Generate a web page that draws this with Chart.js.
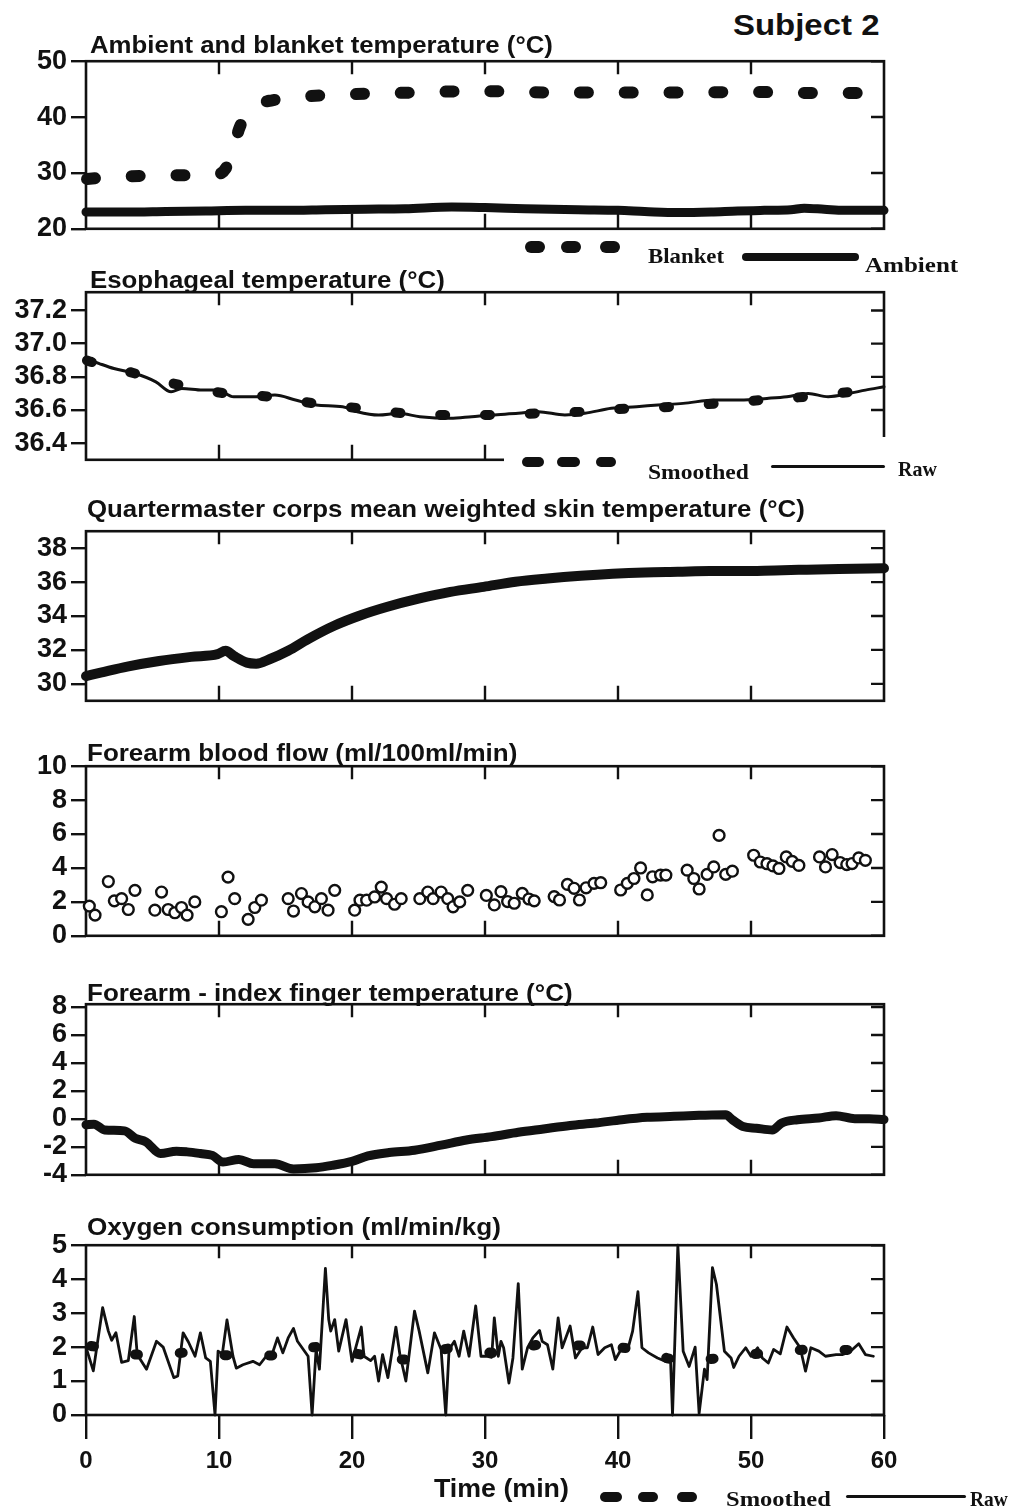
<!DOCTYPE html>
<html>
<head>
<meta charset="utf-8">
<script src="https://cdn.jsdelivr.net/npm/chart.js@4.4.1/dist/chart.umd.min.js"></script>
<style>
  body { margin: 0; background: #fff; }
  #page { position: relative; width: 1011px; height: 1512px; overflow: hidden; background: #fff; }
  canvas.panel { position: absolute; left: 0; z-index: 1; }
  .txt { position: absolute; z-index: 2; white-space: nowrap; line-height: 1; color: #111;
         font-family: "Liberation Sans", Arial, sans-serif; font-weight: bold; transform-origin: 0 0; }
  .txt.serif { font-family: "Liberation Serif", "Times New Roman", serif; }
  .mark { position: absolute; z-index: 2; background: #111; }
  .cover { position: absolute; z-index: 2; background: #fff; }
</style>
</head>
<body>
<div id="page"></div>
<script>
// ---- time axis (minutes) ----
const TIME_TICKS = [0, 10, 20, 30, 40, 50, 60];

// ---- ambient and blanket temperature (°C) ----
const AMB_TICKS = [20, 30, 40, 50];
const BLANKET_T = [0, 2, 4, 6, 8, 10, 10.5, 11, 11.5, 12, 12.5, 13, 14, 15, 16, 18, 20, 22, 25, 28, 31, 35, 40, 45, 50, 55, 60];
const BLANKET_C = [28.9, 29.3, 29.45, 29.55, 29.6, 29.8, 30.8, 33.5, 37.8, 40.2, 41.6, 42.4, 43.0, 43.3, 43.6, 43.9, 44.1, 44.25, 44.4, 44.6, 44.6, 44.4, 44.4, 44.4, 44.5, 44.3, 44.3];
const AMBIENT_T = [0, 3, 6, 9, 12, 15, 18, 21, 24, 27.5, 30, 33, 37, 40, 42, 44.5, 47, 49, 51, 53, 54, 55.5, 57, 60];
const AMBIENT_C = [23.0, 23.0, 23.1, 23.2, 23.3, 23.3, 23.4, 23.5, 23.6, 23.9, 23.8, 23.6, 23.4, 23.3, 23.1, 22.9, 23.0, 23.2, 23.3, 23.4, 23.7, 23.5, 23.3, 23.3];

// ---- esophageal temperature (°C) ----
const ESO_TICKS = [36.4, 36.6, 36.8, 37.0, 37.2];
const ESO_RAW_T = [0, 1.0, 2.1, 3.7, 5.25, 6.4, 7.2, 8.75, 9.9, 11.1, 12.65, 14.2, 15.75, 17.3, 19.3, 20.4, 22.0, 23.5, 25.1, 27.4,
                   29.0, 30.5, 32.5, 34.0, 36.0, 37.5, 39.5, 41.4, 43.0, 44.9, 47.3, 49.2, 51.2, 52.7, 54.3, 55.8, 57.4, 58.6, 60];
const ESO_RAW_C = [36.91, 36.88, 36.85, 36.82, 36.77, 36.71, 36.73, 36.72, 36.72, 36.68, 36.68, 36.69, 36.66, 36.63, 36.62, 36.59, 36.57, 36.58, 36.56, 36.55,
                   36.56, 36.57, 36.58, 36.59, 36.57, 36.58, 36.61, 36.62, 36.63, 36.64, 36.66, 36.66, 36.67, 36.68, 36.70, 36.68, 36.70, 36.72, 36.74];
const ESO_SM_T = [0, 0.4, 3.7, 7.1, 10.5, 13.8, 17.2, 20.6, 23.9, 27.4, 30.7, 34.0, 37.4, 40.9, 44.2, 47.5, 50.8, 54.1, 57.6, 60];
const ESO_SM_C = [36.9, 36.89, 36.82, 36.75, 36.70, 36.68, 36.64, 36.61, 36.58, 36.57, 36.57, 36.58, 36.59, 36.61, 36.62, 36.64, 36.66, 36.68, 36.71, 36.73];

// ---- mean weighted skin temperature (°C) ----
const SKIN_TICKS = [30, 32, 34, 36, 38];
const SKIN_T = [0, 1.1, 3.1, 5.5, 7.9, 9.9, 10.5, 11.1, 12.1, 12.8, 13.8, 15.2, 16.7, 18.7, 20.6, 22.6, 25.0, 27.4, 29.9, 32.3,
                34.7, 37.2, 39.6, 42.0, 44.5, 46.9, 49.3, 51.8, 54.2, 56.6, 60];
const SKIN_C = [30.46, 30.66, 31.02, 31.35, 31.59, 31.75, 31.95, 31.65, 31.25, 31.19, 31.45, 31.95, 32.64, 33.44, 34.03, 34.53, 35.02, 35.42, 35.72, 36.02,
                36.21, 36.37, 36.49, 36.57, 36.61, 36.65, 36.65, 36.69, 36.73, 36.77, 36.81];

// ---- forearm blood flow (ml/100ml/min) ----
const FLOW_TICKS = [0, 2, 4, 6, 8, 10];
const FLOW_T = [0.25, 0.68, 1.68, 2.13, 2.68, 3.18, 3.68,
                5.18, 5.68, 6.18, 6.68, 7.18, 7.6, 8.18,
                10.18, 10.68, 11.18, 12.19, 12.69, 13.19,
                15.2, 15.6, 16.2, 16.7, 17.2, 17.7, 18.2, 18.7,
                20.2, 20.6, 21.1, 21.7, 22.2, 22.6, 23.2, 23.7,
                25.1, 25.7, 26.1, 26.7, 27.2, 27.6, 28.1, 28.7,
                30.1, 30.7, 31.2, 31.7, 32.2, 32.8, 33.3, 33.7,
                35.2, 35.6, 36.2, 36.7, 37.1, 37.6, 38.2, 38.7,
                40.2, 40.7, 41.2, 41.7, 42.2, 42.6, 43.2, 43.6,
                45.2, 45.7, 46.1, 46.7, 47.2, 47.6, 48.1, 48.6,
                50.2, 50.7, 51.2, 51.65, 52.1, 52.65, 53.1, 53.6,
                55.15, 55.6, 56.1, 56.7, 57.2, 57.6, 58.1, 58.6];
const FLOW_V = [1.75, 1.22, 3.20, 2.06, 2.19, 1.55, 2.68,
                1.51, 2.58, 1.55, 1.36, 1.67, 1.22, 2.0,
                1.42, 3.46, 2.19, 0.97, 1.67, 2.10,
                2.19, 1.46, 2.49, 2.0, 1.71, 2.19, 1.51, 2.68,
                1.51, 2.10, 2.10, 2.29, 2.87, 2.19, 1.86, 2.19,
                2.19, 2.58, 2.19, 2.58, 2.19, 1.71, 2.0, 2.68,
                2.38, 1.82, 2.60, 2.02, 1.92, 2.50, 2.17, 2.06,
                2.31, 2.11, 3.03, 2.80, 2.11, 2.83, 3.09, 3.13,
                2.70, 3.09, 3.38, 4.0, 2.41, 3.48, 3.58, 3.58,
                3.87, 3.38, 2.76, 3.62, 4.06, 5.92, 3.62, 3.81,
                4.75, 4.35, 4.25, 4.12, 3.97, 4.65, 4.39, 4.15,
                4.65, 4.06, 4.79, 4.32, 4.20, 4.26, 4.59, 4.45];

// ---- forearm - index finger temperature (°C) ----
const FING_TICKS = [-4, -2, 0, 2, 4, 6, 8];
const FING_T = [0, 0.6, 1.4, 2.9, 3.7, 4.5, 5.6, 6.8, 7.6, 8.6, 9.5, 10.3, 11.5, 12.6, 14.2, 15.6, 17.3, 18.5, 20.0, 21.2, 22.8, 24.7,
                26.7, 28.6, 30.5, 32.5, 34.4, 36.4, 38.3, 40.3, 42.2, 44.2, 46.1, 48.1, 48.6, 49.4, 50.4, 51.6, 52.3, 53.5, 55.1, 56.4, 57.8, 58.9, 60];
const FING_C = [-0.42, -0.38, -0.79, -0.86, -1.39, -1.64, -2.48, -2.31, -2.36, -2.48, -2.61, -3.09, -2.90, -3.21, -3.21, -3.58, -3.50, -3.33, -3.04, -2.65, -2.41, -2.24,
                -1.88, -1.51, -1.27, -0.96, -0.72, -0.47, -0.30, -0.06, 0.11, 0.18, 0.25, 0.30, -0.06, -0.55, -0.67, -0.79, -0.30, -0.06, 0.06, 0.23, 0.01, 0.01, -0.05];

// ---- oxygen consumption (ml/min/kg) ----
const OXY_TICKS = [0, 1, 2, 3, 4, 5];
const OXY_RAW_T = [0.0, 0.55, 1.25, 1.68, 1.93, 2.25, 2.68, 3.18, 3.63, 3.85,
                   4.55, 5.3, 5.8, 6.6, 6.9, 7.3, 7.7, 8.2, 8.6, 9.0,
                   9.35, 9.7, 9.93, 10.25, 10.6, 11.05, 11.3, 11.8, 12.55, 13.05,
                   13.55, 13.9, 14.4, 14.8, 15.2, 15.6, 15.9, 16.7, 17.0, 17.3,
                   17.55, 18.0, 18.25, 18.4, 18.7, 19.0, 19.55, 20.0, 20.7, 20.9,
                   21.4, 21.7, 22.0, 22.3, 22.7, 23.3, 23.6, 24.05, 24.7, 25.05,
                   25.7, 26.2, 26.7, 27.05, 27.3, 27.7, 28.05, 28.4, 28.8, 29.3,
                   29.7, 30.1, 30.5, 30.7, 31.0, 31.2, 31.4, 31.8, 32.1, 32.5,
                   32.8, 33.2, 33.6, 34.1, 34.3, 34.7, 35.1, 35.5, 35.8, 36.4,
                   36.8, 37.3, 37.7, 38.1, 38.5, 39.0, 39.5, 39.8, 40.3, 40.8,
                   41.1, 41.5, 41.8, 42.3, 42.97, 43.6, 43.95, 44.1, 44.5, 44.9,
                   45.35, 45.8, 46.1, 46.5, 46.7, 47.1, 47.4, 48.0, 48.5, 48.7,
                   49.1, 49.6, 50.0, 50.5, 50.85, 51.3, 51.7, 52.2, 52.7, 53.2,
                   53.7, 54.1, 54.5, 55.1, 55.6, 56.4, 56.9, 57.4, 58.1, 58.6, 59.2];
const OXY_RAW_V = [2.0, 1.3, 3.16, 2.47, 2.2, 2.42, 1.55, 1.6, 2.9, 1.78,
                   1.35, 2.17, 2.0, 1.1, 1.15, 2.42, 2.15, 1.73, 2.42, 1.68,
                   1.58, 0.0, 1.88, 1.8, 2.8, 1.73, 1.38, 1.48, 1.58, 1.48,
                   1.73, 1.68, 2.27, 1.83, 2.27, 2.55, 2.17, 1.73, 0.0, 1.93,
                   1.35, 4.32, 2.81, 2.47, 2.81, 1.88, 2.81, 1.58, 2.59, 1.73,
                   1.6, 1.73, 1.0, 1.78, 1.1, 2.59, 1.78, 1.0, 3.06, 2.47,
                   1.24, 2.42, 1.93, 0.0, 1.93, 2.17, 1.73, 2.47, 1.73, 3.21,
                   1.73, 1.73, 1.7, 2.86, 1.73, 2.17, 1.98, 0.94, 1.68, 3.87,
                   1.35, 1.98, 2.27, 2.49, 2.17, 2.07, 1.35, 2.86, 1.98, 2.62,
                   1.68, 1.98, 1.98, 2.59, 1.78, 1.98, 2.07, 1.63, 1.98, 2.03,
                   2.47, 3.63, 1.98, 1.83, 1.68, 1.58, 1.63, 0.0, 5.0, 1.88,
                   1.43, 2.0, 0.05, 1.35, 1.04, 4.34, 3.85, 1.88, 1.68, 1.4,
                   1.73, 1.98, 1.73, 1.98, 1.68, 1.53, 1.93, 1.8, 2.59, 2.27,
                   1.98, 1.29, 1.98, 1.88, 1.73, 1.78, 1.78, 1.85, 2.1, 1.78, 1.73];
const OXY_SM_T = [0, 0.6, 4.0, 7.4, 10.6, 14.0, 17.4, 21.0, 24.3, 27.6, 31.1, 34.4, 37.9, 41.4, 44.9, 48.0, 51.4, 54.9, 58.3, 59.2];
const OXY_SM_V = [2.05, 2.02, 1.78, 1.83, 1.76, 1.75, 2.0, 1.76, 1.63, 1.97, 1.82, 2.08, 2.03, 1.93, 1.6, 1.69, 1.84, 1.93, 1.9, 1.88];

const INK = '#111';
const FONT = "'Liberation Sans', Arial, sans-serif";
const PAD = 20;       // space above/below each plot frame inside its canvas
const AXIS_H = 60;    // height kept for the time axis under the last panel

const pts = (ts, vs) => ts.map((t, i) => ({ x: t, y: vs[i] }));

function curve(ts, vs, width, extra) {
  return Object.assign({
    data: pts(ts, vs), borderColor: INK, borderWidth: width, pointRadius: 0,
    borderCapStyle: 'round', borderJoinStyle: 'round', fill: false, clip: 8,
    cubicInterpolationMode: 'monotone'
  }, extra);
}

// frame around the plot plus the inward tick marks (top, bottom, right)
const framePlugin = {
  id: 'frame',
  beforeDatasetsDraw(chart, args, opts) {
    const { ctx, chartArea: a, scales: { x, y } } = chart;
    ctx.save();
    ctx.strokeStyle = INK;
    ctx.lineWidth = 2.6;
    ctx.strokeRect(a.left, a.top, a.right - a.left, a.bottom - a.top);
    ctx.lineWidth = 2.4;
    ctx.beginPath();
    TIME_TICKS.slice(1, -1).forEach(t => {
      const px = x.getPixelForValue(t);
      ctx.moveTo(px, a.top); ctx.lineTo(px, a.top + 13);
      if (!opts.outerBottom) { ctx.moveTo(px, a.bottom); ctx.lineTo(px, a.bottom - 15); }
    });
    y.ticks.forEach(tk => {
      const py = y.getPixelForValue(tk.value);
      ctx.moveTo(a.right, py); ctx.lineTo(a.right - 13, py);
    });
    ctx.stroke();
    ctx.restore();
  }
};

const panels = [
  { top: 61, bottom: 229, min: 20, max: 50, ticks: AMB_TICKS,
    datasets: [
      curve(AMBIENT_T, AMBIENT_C, 9),
      curve(BLANKET_T, BLANKET_C, 12, { borderDash: [8, 36.8], borderDashOffset: -1 })
    ] },
  { top: 292, bottom: 460, min: 36.3, max: 37.31, ticks: ESO_TICKS, fmt: v => v.toFixed(1),
    datasets: [
      curve(ESO_RAW_T, ESO_RAW_C, 3),
      curve(ESO_SM_T, ESO_SM_C, 10, { borderDash: [5, 39.8], borderDashOffset: -1 })
    ] },
  { top: 531, bottom: 701, min: 29, max: 39, ticks: SKIN_TICKS,
    datasets: [ curve(SKIN_T, SKIN_C, 10) ] },
  { top: 766, bottom: 936, min: 0, max: 10, ticks: FLOW_TICKS,
    datasets: [ {
      data: pts(FLOW_T, FLOW_V), showLine: false, pointStyle: 'circle', pointRadius: 5.4,
      pointBorderWidth: 2.4, pointBorderColor: INK, pointBackgroundColor: '#fff', clip: 8
    } ] },
  { top: 1004, bottom: 1175, min: -4, max: 8.2, ticks: FING_TICKS,
    datasets: [ curve(FING_T, FING_C, 9) ] },
  { top: 1245, bottom: 1415, min: 0, max: 5, ticks: OXY_TICKS, last: true,
    datasets: [
      curve(OXY_RAW_T, OXY_RAW_V, 2.8, { cubicInterpolationMode: 'default', tension: 0 }),
      curve(OXY_SM_T, OXY_SM_V, 10, { borderDash: [3, 41.8], borderDashOffset: -5 })
    ] }
];

const page = document.getElementById('page');

function makePanel(p) {
  const c = document.createElement('canvas');
  c.className = 'panel';
  c.width = 1011;
  c.height = p.bottom - p.top + PAD + (p.last ? AXIS_H : PAD);
  c.style.top = (p.top - PAD) + 'px';
  page.appendChild(c);

  new Chart(c, {
    type: 'line',
    data: { datasets: p.datasets },
    options: {
      responsive: false,
      animation: false,
      events: [],
      layout: { padding: { top: PAD, bottom: p.last ? 0 : PAD, left: 0, right: 127 } },
      plugins: { legend: { display: false }, tooltip: { enabled: false }, frame: { outerBottom: !!p.last } },
      scales: {
        x: {
          type: 'linear', min: 0, max: 60, display: !!p.last,
          afterBuildTicks: s => { s.ticks = TIME_TICKS.map(v => ({ value: v })); },
          afterFit: s => { if (p.last) s.height = AXIS_H; },
          border: { display: false },
          grid: { drawOnChartArea: false, tickLength: 24, lineWidth: 2.4, color: INK },
          ticks: { color: INK, font: { family: FONT, size: 24, weight: 'bold' }, padding: 8, maxRotation: 0, autoSkip: false }
        },
        y: {
          min: p.min, max: p.max,
          afterBuildTicks: s => { s.ticks = p.ticks.map(v => ({ value: v })); },
          afterFit: s => { s.width = 86; },
          border: { display: false },
          grid: { drawOnChartArea: false, tickLength: 15, lineWidth: 2.4, color: INK },
          ticks: { color: INK, font: { family: FONT, size: 27, weight: 'bold' }, padding: 4, autoSkip: false,
                   callback: v => p.fmt ? p.fmt(v) : String(v) }
        }
      }
    },
    plugins: [framePlugin]
  });
}

panels.forEach(makePanel);

// white patch where the esophageal legend sits over the frame corner
const cover = document.createElement('div');
cover.className = 'cover';
Object.assign(cover.style, { left: '504px', top: '437px', width: '392px', height: '34px' });
page.appendChild(cover);

// text: [string, left, top, font size, width, serif]
const LABELS = [
  ['Subject 2', 733, 10, 30, 146],
  ['Ambient and blanket temperature (°C)', 90, 33, 24, 463],
  ['Esophageal temperature (°C)', 90, 268, 24, 355],
  ['Quartermaster corps mean weighted skin temperature (°C)', 87, 497, 24, 718],
  ['Forearm blood flow (ml/100ml/min)', 87, 741, 24, 430],
  ['Forearm - index finger temperature (°C)', 87, 981, 24, 485],
  ['Oxygen consumption (ml/min/kg)', 87, 1215, 24, 414],
  ['Time (min)', 434, 1476, 25, 135],
  ['Blanket', 648, 246, 21, 76, true],
  ['Ambient', 865, 255, 21, 93, true],
  ['Smoothed', 648, 462, 21, 101, true],
  ['Raw', 898, 459, 21, 39, true],
  ['Smoothed', 726, 1489, 21, 105, true],
  ['Raw', 970, 1489, 21, 38, true]
];

LABELS.forEach(([s, x, y, size, w, serif]) => {
  const el = document.createElement('div');
  el.className = 'txt' + (serif ? ' serif' : '');
  el.textContent = s;
  Object.assign(el.style, { left: x + 'px', top: y + 'px', fontSize: size + 'px' });
  page.appendChild(el);
  el.style.transform = 'scaleX(' + (w / el.offsetWidth).toFixed(3) + ')';
});

// legend samples: [left, top, width, height]
const MARKS = [
  [525, 241, 20, 12], [561, 241, 20, 12], [600, 241, 20, 12], [742, 253, 117, 8],
  [522, 457, 22, 10], [557, 457, 23, 10], [596, 457, 20, 10], [771, 465, 114, 3],
  [600, 1492, 22, 10], [638, 1492, 20, 10], [677, 1492, 20, 10], [846, 1495, 120, 3]
];
MARKS.forEach(([x, y, w, h]) => {
  const el = document.createElement('div');
  el.className = 'mark';
  Object.assign(el.style, { left: x + 'px', top: y + 'px', width: w + 'px', height: h + 'px', borderRadius: (h / 2) + 'px' });
  page.appendChild(el);
});
</script>
</body>
</html>
